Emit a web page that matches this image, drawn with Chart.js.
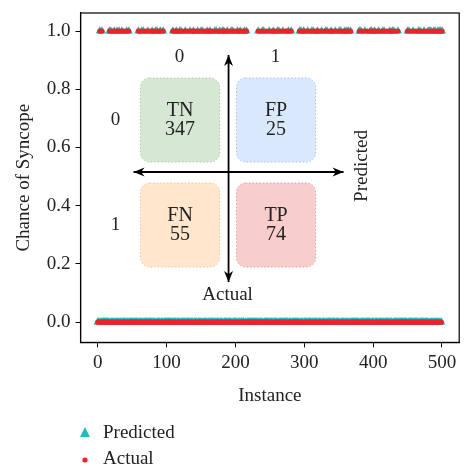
<!DOCTYPE html>
<html>
<head>
<meta charset="utf-8">
<script src="https://cdn.jsdelivr.net/npm/chart.js"></script>
<style>
  body { margin: 0; background: #fff; }
  canvas { display: block; }
</style>
</head>
<body>
<canvas id="chart" width="464" height="472"></canvas>
<script>
// instances 0..500, each one either 0 (no syncope) or 1 (syncope)
const instanceCount = 501;

// instances whose actual outcome is 1
const actualPositive = [
  3, 6,
  17, 21, 24, 28, 31, 35, 38, 42, 45,
  59, 62, 66, 70, 73, 77, 79, 81, 84, 88, 91, 95,
  109, 112, 114, 116, 119, 123, 127, 130, 134, 137, 139, 141, 145, 148, 152, 156, 159, 161, 163, 166,
  170, 174, 177, 181, 183, 185, 188, 192, 196, 199, 203, 205, 207, 210, 213, 216,
  233, 237, 241, 245, 249, 253, 255, 257, 261, 265, 269, 273, 275, 277, 281,
  293, 297, 299, 301, 305, 309, 313, 317, 319, 321, 325, 329, 333, 337, 339, 341, 345, 349, 353, 357,
  359, 361, 364, 367,
  380, 384, 388, 392, 396, 400, 402, 404, 408, 412, 416, 420, 424, 426, 428, 432, 436,
  450, 454, 458, 462, 466, 470, 474, 478, 482, 486, 490, 494, 497, 500
];

// instances the model predicts as 1
const predictedPositive = [
  3, 6,
  17, 19, 24, 28, 31, 35, 42, 45,
  59, 64, 66, 73, 79, 84, 86, 91, 95,
  109, 114, 119, 121, 127, 134, 139, 145, 150, 152, 159, 163, 170, 172, 177, 181, 183, 188, 194, 196,
  203, 207, 213, 216,
  233, 239, 241, 249, 255, 261, 263, 269, 277, 281,
  293, 295, 299, 305, 311, 313, 319, 325, 331, 333, 339, 345, 351, 353, 359, 362, 364, 367,
  380, 382, 388, 396, 398, 402, 408, 414, 416, 424, 428, 430, 436,
  450, 452, 458, 466, 468, 474, 480, 482, 484, 488, 490, 494, 496, 498, 500
];

const xTicks = [0, 100, 200, 300, 400, 500];
const yTicks = [0, 0.2, 0.4, 0.6, 0.8, 1.0];
const classLabels = ['0', '1'];

const serif = '"Liberation Serif", "DejaVu Serif", serif';
const teal = 'rgb(30, 190, 192)';
const red = 'rgb(235, 36, 42)';

let actual = [];
let predicted = [];
for (let i = 0; i < instanceCount; i++) {
  actual.push(actualPositive.includes(i) ? 1 : 0);
  predicted.push(predictedPositive.includes(i) ? 1 : 0);
}

// confusion matrix counts straight from the two series
let counts = { TN: 0, FP: 0, FN: 0, TP: 0 };
for (let i = 0; i < instanceCount; i++) {
  if (actual[i] === 0 && predicted[i] === 0) counts.TN++;
  if (actual[i] === 0 && predicted[i] === 1) counts.FP++;
  if (actual[i] === 1 && predicted[i] === 0) counts.FN++;
  if (actual[i] === 1 && predicted[i] === 1) counts.TP++;
}

const cellStyles = {
  TN: { fill: 'rgb(214, 232, 212)', edge: 'rgb(170, 205, 160)' },
  FP: { fill: 'rgb(218, 232, 251)', edge: 'rgb(168, 195, 230)' },
  FN: { fill: 'rgb(255, 230, 204)', edge: 'rgb(240, 200, 150)' },
  TP: { fill: 'rgb(248, 206, 204)', edge: 'rgb(225, 160, 158)' }
};

function drawArrow(ctx, x1, y1, x2, y2) {
  ctx.beginPath();
  ctx.moveTo(x1, y1);
  ctx.lineTo(x2, y2);
  ctx.stroke();
  [[x1, y1, x2, y2], [x2, y2, x1, y1]].forEach(([ax, ay, bx, by]) => {
    const ang = Math.atan2(ay - by, ax - bx);
    const len = 11, half = 4.5;
    ctx.beginPath();
    ctx.moveTo(ax, ay);
    ctx.lineTo(ax - len * Math.cos(ang) + half * Math.sin(ang), ay - len * Math.sin(ang) - half * Math.cos(ang));
    ctx.lineTo(ax - 0.7 * len * Math.cos(ang), ay - 0.7 * len * Math.sin(ang));
    ctx.lineTo(ax - len * Math.cos(ang) - half * Math.sin(ang), ay - len * Math.sin(ang) + half * Math.cos(ang));
    ctx.closePath();
    ctx.fill();
  });
}

const overlay = {
  id: 'overlay',
  afterDraw(chart) {
    const ctx = chart.ctx;
    const area = chart.chartArea;
    const ox = area.left, oy = area.top;

    ctx.save();
    // frame round the plot
    ctx.strokeStyle = '#000';
    ctx.lineWidth = 1.2;
    ctx.strokeRect(area.left, area.top, area.right - area.left, area.bottom - area.top);

    // confusion matrix cells
    const cellW = 79, cellH = 84;
    const cells = [
      { name: 'TN', x: ox + 60, y: oy + 65 },
      { name: 'FP', x: ox + 156, y: oy + 65 },
      { name: 'FN', x: ox + 60, y: oy + 170 },
      { name: 'TP', x: ox + 156, y: oy + 170 }
    ];
    cells.forEach(c => {
      const st = cellStyles[c.name];
      ctx.beginPath();
      ctx.roundRect(c.x, c.y, cellW, cellH, 9);
      ctx.fillStyle = st.fill;
      ctx.fill();
      ctx.setLineDash([1.5, 2]);
      ctx.strokeStyle = st.edge;
      ctx.lineWidth = 1;
      ctx.stroke();
      ctx.setLineDash([]);

      ctx.fillStyle = '#222';
      ctx.font = '20px ' + serif;
      ctx.textAlign = 'center';
      ctx.textBaseline = 'middle';
      ctx.fillText(c.name, c.x + cellW / 2, c.y + 33);
      ctx.fillText(String(counts[c.name]), c.x + cellW / 2, c.y + 52);
    });

    // axes of the matrix
    ctx.strokeStyle = '#000';
    ctx.fillStyle = '#000';
    ctx.lineWidth = 1.8;
    drawArrow(ctx, ox + 148, oy + 42, ox + 148, oy + 269);
    drawArrow(ctx, ox + 53, oy + 159, ox + 263, oy + 159);

    ctx.fillStyle = '#222';
    ctx.font = '19px ' + serif;
    ctx.textAlign = 'center';
    ctx.textBaseline = 'middle';
    ctx.fillText(classLabels[0], ox + 99, oy + 44);
    ctx.fillText(classLabels[1], ox + 195, oy + 44);
    ctx.fillText(classLabels[0], ox + 35, oy + 107);
    ctx.fillText(classLabels[1], ox + 35, oy + 212);
    ctx.fillText('Actual', ox + 147, oy + 282);

    ctx.save();
    ctx.translate(ox + 281, oy + 153);
    ctx.rotate(-Math.PI / 2);
    ctx.fillText('Predicted', 0, 0);
    ctx.restore();

    // legend under the axis title
    const lx = 85;
    ctx.fillStyle = teal;
    ctx.beginPath();
    ctx.moveTo(lx, 427);
    ctx.lineTo(lx + 5, 437);
    ctx.lineTo(lx - 5, 437);
    ctx.closePath();
    ctx.fill();
    ctx.fillStyle = red;
    ctx.beginPath();
    ctx.arc(lx, 460, 2.6, 0, Math.PI * 2);
    ctx.fill();

    ctx.fillStyle = '#222';
    ctx.font = '19px ' + serif;
    ctx.textAlign = 'left';
    ctx.fillText('Predicted', 103, 433);
    ctx.fillText('Actual', 103, 459);
    ctx.restore();
  }
};

const axisFont = { family: serif, size: 19 };

new Chart(document.getElementById('chart'), {
  type: 'scatter',
  data: {
    datasets: [
      {
        label: 'Actual',
        data: actual.map((v, i) => ({ x: i, y: v })),
        pointStyle: 'circle',
        pointRadius: 2.6,
        backgroundColor: red,
        borderWidth: 0
      },
      {
        label: 'Predicted',
        data: predicted.map((v, i) => ({ x: i, y: v })),
        pointStyle: 'triangle',
        pointRadius: 4.8,
        backgroundColor: teal,
        borderWidth: 0
      }
    ]
  },
  options: {
    responsive: false,
    animation: false,
    layout: { padding: { top: 13, right: 0, bottom: 61, left: 9 } },
    plugins: {
      legend: { display: false },
      tooltip: { enabled: false }
    },
    scales: {
      x: {
        type: 'linear',
        min: -25,
        max: 525,
        afterBuildTicks: axis => { axis.ticks = xTicks.map(v => ({ value: v })); },
        ticks: { font: axisFont, color: '#222', padding: 4 },
        grid: { drawOnChartArea: false, tickLength: 5, color: '#000' },
        border: { color: '#000', width: 1.2 },
        title: { display: true, text: 'Instance', font: axisFont, color: '#222', padding: { top: 6 } }
      },
      y: {
        type: 'linear',
        min: -0.07,
        max: 1.062,
        afterBuildTicks: axis => { axis.ticks = yTicks.map(v => ({ value: v })); },
        // the end labels sit well inside the axis, no extra room needed for them
        afterFit: axis => { axis.paddingTop = 0; axis.paddingBottom = 0; },
        ticks: { font: axisFont, color: '#222', padding: 5, callback: v => v.toFixed(1) },
        grid: { drawOnChartArea: false, tickLength: 5, color: '#000' },
        border: { color: '#000', width: 1.2 },
        title: { display: true, text: 'Chance of Syncope', font: axisFont, color: '#222', padding: { bottom: 6 } }
      }
    }
  },
  plugins: [overlay]
});
</script>
</body>
</html>
